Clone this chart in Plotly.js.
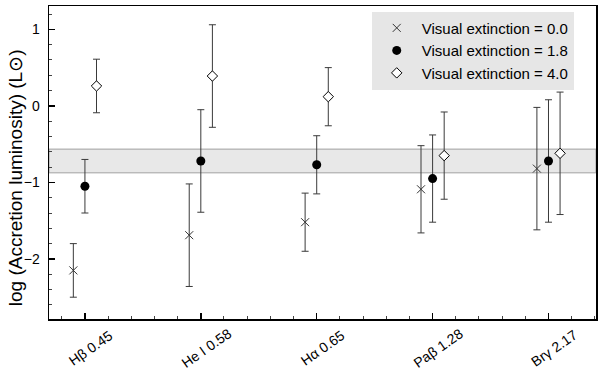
<!DOCTYPE html>
<html>
<head>
<meta charset="utf-8">
<script src="https://cdn.plot.ly/plotly-3.0.1.min.js"></script>
<style>
  body { margin: 0; background: #fff; }
  #lumChart { width: 600px; height: 369px; }
</style>
</head>
<body>
<div id="lumChart"></div>
<script>
// emission lines (x categories)
const lineNames = ['Hβ 0.45', 'He I 0.58', 'Hα 0.65', 'Paβ 1.28', 'Brγ 2.17'];
// log accretion luminosity for each visual extinction
const lumAv00 = [-2.15, -1.69, -1.52, -1.09, -0.82];
const lumAv18 = [-1.05, -0.72, -0.77, -0.95, -0.72];
const lumAv40 = [0.26, 0.39, 0.12, -0.65, -0.62];
// error per line (same for the three extinctions)
const lumErr = [0.35, 0.67, 0.38, 0.57, 0.80];
// grey band
const bandLow = -0.875;
const bandHigh = -0.565;

const fontFamily = 'Liberation Sans, Arial, sans-serif';
const idx = lineNames.map((_, i) => i);

function errBar() {
    return {
        type: 'data',
        array: lumErr,
        visible: true,
        color: '#3a3a3a',
        thickness: 1,
        width: 3.5
    };
}

var trace1 = {
    x: idx.map(i => i - 0.1),
    y: lumAv00,
    type: 'scatter',
    mode: 'markers',
    name: 'Visual extinction = 0.0',
    error_y: errBar(),
    marker: {
        symbol: 'x-thin-open',
        size: 8,
        color: '#333',
        line: { color: '#333', width: 1 }
    }
};

var trace2 = {
    x: idx,
    y: lumAv18,
    type: 'scatter',
    mode: 'markers',
    name: 'Visual extinction = 1.8',
    error_y: errBar(),
    marker: {
        symbol: 'circle',
        size: 9,
        color: '#000'
    }
};

var trace3 = {
    x: idx.map(i => i + 0.1),
    y: lumAv40,
    type: 'scatter',
    mode: 'markers',
    name: 'Visual extinction = 4.0',
    error_y: errBar(),
    marker: {
        symbol: 'diamond',
        size: 8,
        color: '#fff',
        line: { color: '#000', width: 1 }
    }
};

var data = [trace1, trace2, trace3];

// rotated category labels, centred just right of each tick
const labelNotes = lineNames.map((name, i) => ({
    text: name,
    x: i + 0.05,
    xref: 'x',
    y: -0.093,
    yref: 'paper',
    xanchor: 'center',
    yanchor: 'middle',
    textangle: -35,
    showarrow: false,
    font: { family: fontFamily, size: 14, color: '#000' }
}));

var layout = {
    width: 600,
    height: 369,
    margin: { l: 49, r: 4, t: 6, b: 50 },
    paper_bgcolor: '#fff',
    plot_bgcolor: '#fff',
    font: { family: fontFamily, size: 14, color: '#000' },
    showlegend: true,
    legend: {
        x: 0.59,
        xanchor: 'left',
        y: 0.982,
        yanchor: 'top',
        bgcolor: '#e6e6e6',
        borderwidth: 0,
        itemwidth: 40,
        font: { family: fontFamily, size: 15, color: '#000' }
    },
    xaxis: {
        range: [-0.31, 4.41],
        tickvals: idx,
        ticktext: idx.map(() => ''),
        showgrid: false,
        zeroline: false,
        showline: true,
        linecolor: '#000',
        linewidth: 1.5,
        mirror: true,
        ticks: 'inside',
        ticklen: 6,
        tickwidth: 1.5,
        tickcolor: '#000',
        minor: { dtick: 0.2, tick0: 0, ticks: 'inside', ticklen: 3, tickcolor: '#444', tickwidth: 1 }
    },
    yaxis: {
        range: [-2.785, 1.305],
        dtick: 1,
        tick0: 0,
        showgrid: false,
        zeroline: false,
        showline: true,
        linecolor: '#000',
        linewidth: 1.5,
        mirror: true,
        ticks: 'inside',
        ticklen: 6,
        tickwidth: 1.5,
        tickcolor: '#000',
        ticklabelstandoff: 5,
        tickfont: { family: fontFamily, size: 14, color: '#000' },
        minor: { dtick: 0.2, tick0: 0, ticks: 'inside', ticklen: 3, tickcolor: '#444', tickwidth: 1 }
    },
    shapes: [{
        type: 'rect',
        xref: 'paper',
        x0: 0,
        x1: 1,
        yref: 'y',
        y0: bandLow,
        y1: bandHigh,
        fillcolor: '#e8e8e8',
        line: { color: '#a0a0a0', width: 1 },
        layer: 'below'
    }],
    annotations: labelNotes.concat([{
        text: 'log (Accretion luminosity) (L⊙)',
        xref: 'paper',
        x: -0.062,
        yref: 'paper',
        y: 0.45,
        xanchor: 'center',
        yanchor: 'middle',
        textangle: -90,
        showarrow: false,
        font: { family: fontFamily, size: 19, color: '#000' }
    }])
};

Plotly.newPlot('lumChart', data, layout, { displayModeBar: false, staticPlot: true });
</script>
</body>
</html>
